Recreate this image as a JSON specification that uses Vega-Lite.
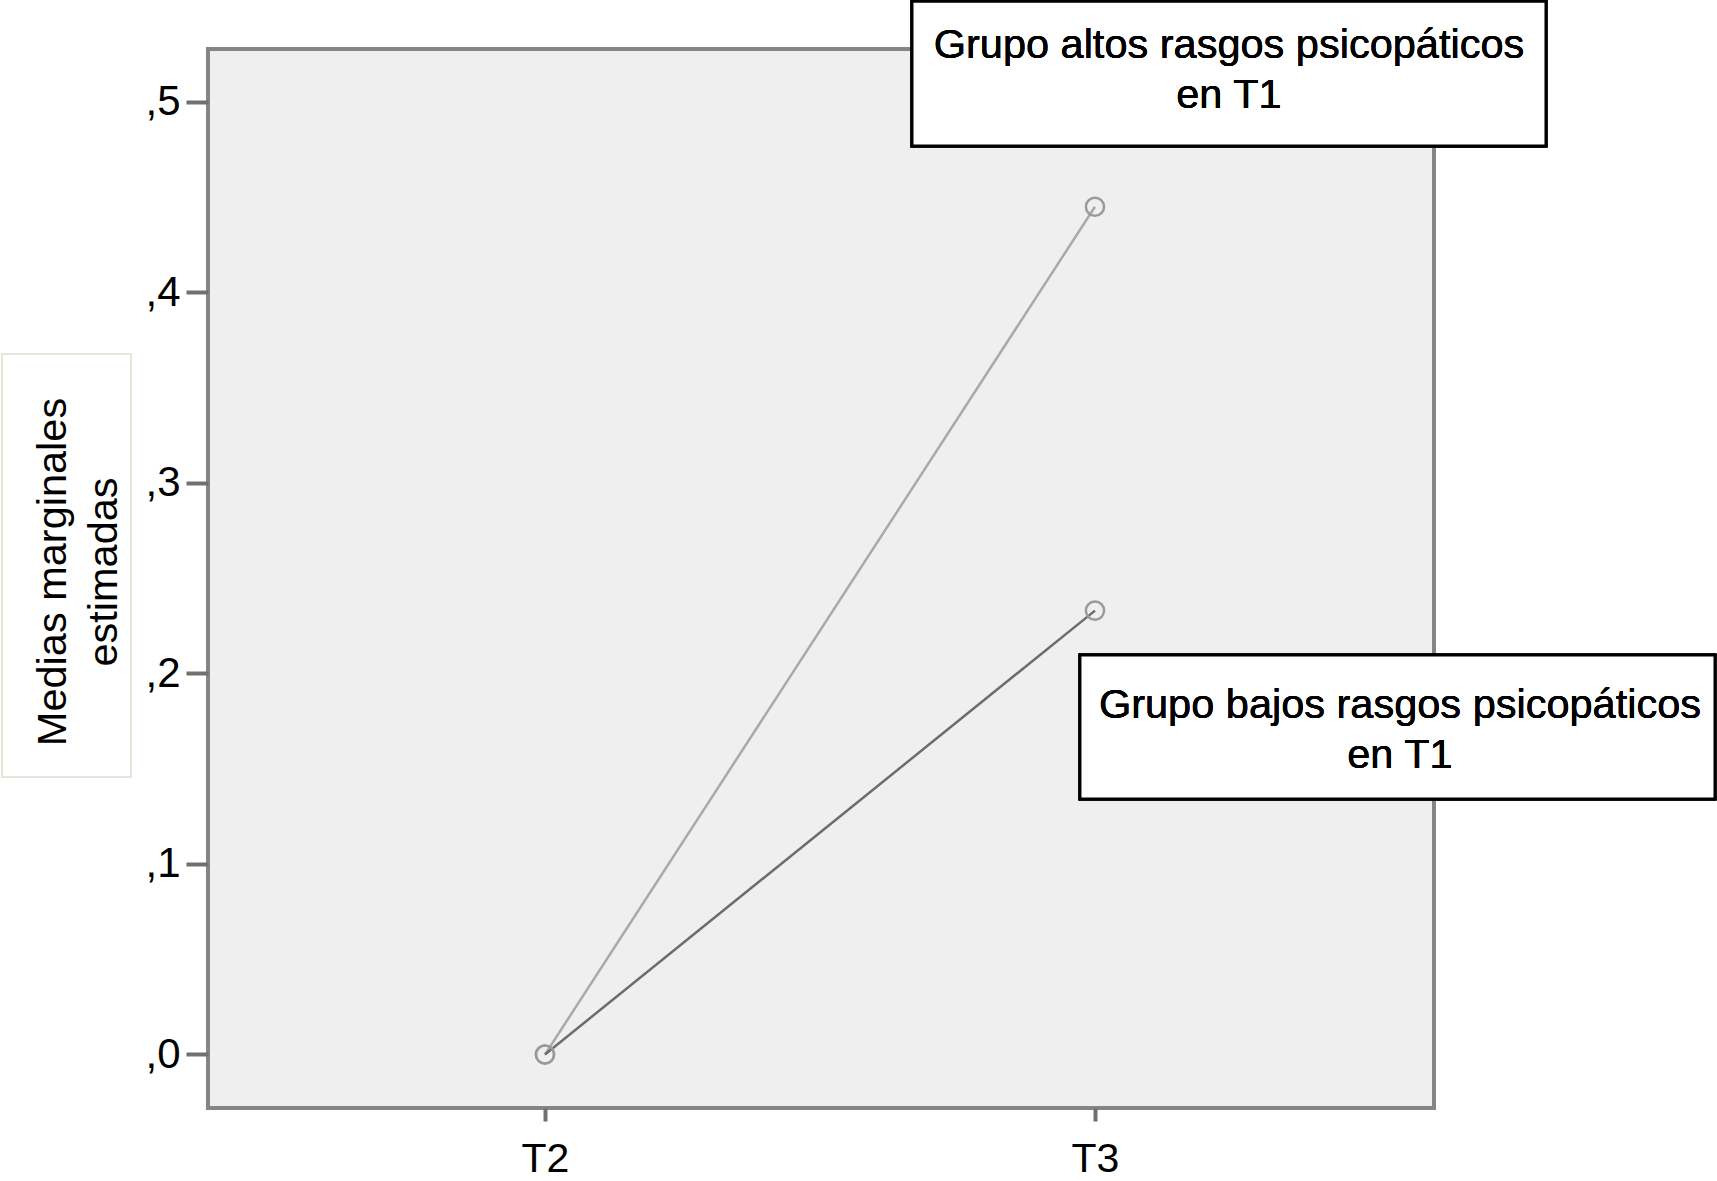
{
  "$schema": "https://vega.github.io/schema/vega-lite/v6.json",
  "autosize": "none",
  "width": 1226,
  "height": 1059,
  "padding": {"left": 208, "top": 49, "right": 283, "bottom": 73},
  "background": "white",
  "data": {
    "values": [
      {"grupo": "Grupo altos rasgos psicopáticos en T1", "tiempo": 2, "media": 0.0},
      {"grupo": "Grupo altos rasgos psicopáticos en T1", "tiempo": 3, "media": 0.445},
      {"grupo": "Grupo bajos rasgos psicopáticos en T1", "tiempo": 2, "media": 0.0},
      {"grupo": "Grupo bajos rasgos psicopáticos en T1", "tiempo": 3, "media": 0.233}
    ]
  },
  "encoding": {
    "x": {
      "field": "tiempo",
      "type": "quantitative",
      "scale": {"domain": [1.3873, 3.6164], "nice": false, "zero": false},
      "axis": {
        "values": [2, 3],
        "labelExpr": "'T' + datum.value",
        "title": null,
        "domain": false,
        "grid": false,
        "tickSize": 13,
        "tickWidth": 4,
        "tickColor": "#707070",
        "labelFontSize": 41,
        "labelPadding": 18,
        "labelColor": "black",
        "labelFont": "Liberation Sans"
      }
    },
    "y": {
      "field": "media",
      "type": "quantitative",
      "scale": {"domain": [-0.0281, 0.5278], "nice": false, "zero": false},
      "axis": {
        "values": [0, 0.1, 0.2, 0.3, 0.4, 0.5],
        "labelExpr": "replace(format(datum.value, '.1f'), '0.', ',')",
        "domain": false,
        "grid": false,
        "tickSize": 22,
        "tickWidth": 4,
        "tickColor": "#707070",
        "labelFontSize": 42,
        "labelPadding": 6,
        "labelColor": "black",
        "labelFont": "Liberation Sans",
        "title": ["Medias marginales", "estimadas"],
        "titleFont": "Liberation Sans",
        "titleFontSize": 41.5,
        "titleFontWeight": "normal",
        "titleColor": "black",
        "titleLineHeight": 51,
        "titleAngle": 270,
        "titleAlign": "center",
        "titleBaseline": "alphabetic",
        "titleX": -143,
        "titleY": 522.5
      }
    }
  },
  "layer": [
    {
      "mark": {"type": "line", "strokeWidth": 2.5},
      "encoding": {
        "color": {
          "field": "grupo",
          "type": "nominal",
          "scale": {"range": ["#a9a9a9", "#6c6c6c"]},
          "legend": null
        }
      }
    },
    {
      "mark": {"type": "point", "shape": "circle", "filled": false, "size": 330, "stroke": "#9a9a9a", "strokeWidth": 2.5, "opacity": 1}
    },
    {
      "mark": {"type": "rect", "fill": "white", "stroke": "black", "strokeWidth": 3},
      "encoding": {
        "x": {"datum": 2.6673, "type": "quantitative"},
        "x2": {"datum": 3.82},
        "y": {"datum": 0.5528, "type": "quantitative"},
        "y2": {"datum": 0.4769}
      }
    },
    {
      "mark": {"type": "text", "font": "Liberation Sans", "fontSize": 41.5, "lineHeight": 50, "align": "center", "baseline": "alphabetic", "color": "black"},
      "encoding": {
        "x": {"datum": 3.2436, "type": "quantitative"},
        "y": {"datum": 0.5229, "type": "quantitative"},
        "text": {"value": ["Grupo altos rasgos psicopáticos", "en T1"]}
      }
    },
    {
      "mark": {"type": "rect", "fill": "white", "stroke": "black", "strokeWidth": 3},
      "encoding": {
        "x": {"datum": 2.9727, "type": "quantitative"},
        "x2": {"datum": 4.1273},
        "y": {"datum": 0.2097, "type": "quantitative"},
        "y2": {"datum": 0.1341}
      }
    },
    {
      "mark": {"type": "text", "font": "Liberation Sans", "fontSize": 41.5, "lineHeight": 50, "align": "center", "baseline": "alphabetic", "color": "black"},
      "encoding": {
        "x": {"datum": 3.5545, "type": "quantitative"},
        "y": {"datum": 0.1765, "type": "quantitative"},
        "text": {"value": ["Grupo bajos rasgos psicopáticos", "en T1"]}
      }
    },
    {
      "mark": {"type": "rect", "filled": false, "stroke": "#e8e4da", "strokeWidth": 2},
      "encoding": {
        "x": {"datum": 1.0127, "type": "quantitative"},
        "x2": {"datum": 1.2473},
        "y": {"datum": 0.3677, "type": "quantitative"},
        "y2": {"datum": 0.1457}
      }
    }
  ],
  "config": {
    "view": {"fill": "#efefef", "stroke": "#858585", "strokeWidth": 4},
    "font": "Liberation Sans"
  }
}
